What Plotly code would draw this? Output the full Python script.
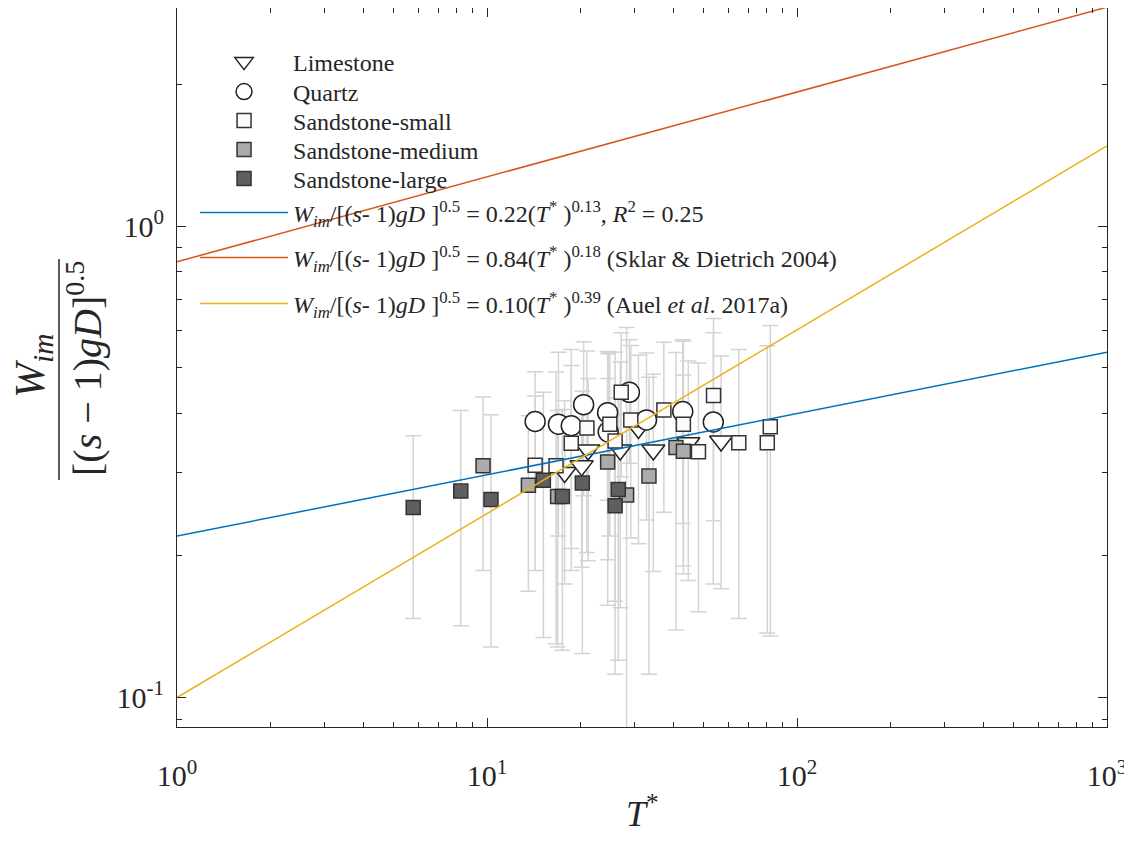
import plotly.graph_objects as go

# ---------------- data ----------------
lime_T = [17.8, 20.2, 21.2, 26.9, 30.8, 34.4, 44.6, 56.9]
lime_W = [0.300, 0.310, 0.335, 0.335, 0.372, 0.335, 0.347, 0.350]
lime_E = [0.126, 0.121, 0.140, 0.180, 0.160, 0.150, 0.170, 0.180]

quartz_T = [14.3, 17.0, 18.7, 20.5, 24.5, 24.6, 28.8, 32.7, 42.8, 53.7]
quartz_W = [0.385, 0.380, 0.377, 0.418, 0.402, 0.366, 0.444, 0.388, 0.404, 0.384]
quartz_E = [0.106, 0.160, 0.170, 0.150, 0.140, 0.170, 0.130, 0.150, 0.170, 0.210]

ss_small_T = [14.3, 16.7, 18.7, 21.0, 24.9, 25.9, 27.1, 29.1, 37.2, 43.0, 48.1, 53.8, 64.9, 80.2, 82.0]
ss_small_W = [0.311, 0.310, 0.346, 0.373, 0.380, 0.350, 0.444, 0.388, 0.407, 0.380, 0.332, 0.437, 0.347, 0.347, 0.375]
ss_small_E = [0.125, 0.180, 0.160, 0.170, 0.160, 0.190, 0.150, 0.170, 0.160, 0.190, 0.180, 0.200, 0.200, 0.210, 0.240]

ss_med_T = [9.71, 13.6, 16.9, 24.5, 28.2, 33.3, 40.7, 43.0]
ss_med_W = [0.310, 0.282, 0.267, 0.316, 0.269, 0.295, 0.339, 0.333]
ss_med_E = [0.124, 0.114, 0.139, 0.159, 0.340, 0.183, 0.200, 0.150]

ss_large_T = [5.78, 8.23, 10.3, 15.2, 17.5, 20.3, 26.5, 25.9]
ss_large_W = [0.253, 0.274, 0.263, 0.289, 0.267, 0.285, 0.276, 0.255]
ss_large_E = [0.106, 0.132, 0.135, 0.155, 0.141, 0.161, 0.156, 0.143]

# fitted / literature relations  W = a * T^b
fit_names = [
    "<i>W</i><sub><i>im</i></sub>/[(<i>s</i>- 1)<i>gD</i> ]<sup>0.5</sup> = 0.22(<i>T</i><sup>*</sup> )<sup>0.13</sup>, <i>R</i><sup>2</sup> = 0.25",
    "<i>W</i><sub><i>im</i></sub>/[(<i>s</i>- 1)<i>gD</i> ]<sup>0.5</sup> = 0.84(<i>T</i><sup>*</sup> )<sup>0.18</sup> (Sklar &amp; Dietrich 2004)",
    "<i>W</i><sub><i>im</i></sub>/[(<i>s</i>- 1)<i>gD</i> ]<sup>0.5</sup> = 0.10(<i>T</i><sup>*</sup> )<sup>0.39</sup> (Auel <i>et al</i>. 2017a)",
]
fit_a = [0.22, 0.84, 0.10]
fit_b = [0.13, 0.18, 0.39]
fit_colors = ["#0072BD", "#D95319", "#EDB120"]
fit_T_range = [1, 1000]

x_tickvals = [1, 10, 100, 1000]
x_ticktext = ["10<sup>0</sup>", "10<sup>1</sup>", "10<sup>2</sup>", "10<sup>3</sup>"]
x_minor = [m * d for d in (1, 10, 100) for m in range(2, 10)]
y_tickvals = [0.1, 1]
y_ticktext = ["10<sup>-1</sup>", "10<sup>0</sup>"]
y_minor = [0.09] + [m / 10 for m in range(2, 10)] + [2]

FONT = "Liberation Serif, Times New Roman, serif"
INK = "#262626"

series = [
    ("Limestone", lime_T, lime_W, lime_E, "triangle-down", 20, "white", "#222222"),
    ("Quartz", quartz_T, quartz_W, quartz_E, "circle", 20, "white", "#222222"),
    ("Sandstone-small", ss_small_T, ss_small_W, ss_small_E, "square", 14, "#fcfcfc", "#333333"),
    ("Sandstone-medium", ss_med_T, ss_med_W, ss_med_E, "square", 14, "#ababab", "#333333"),
    ("Sandstone-large", ss_large_T, ss_large_W, ss_large_E, "square", 14, "#5f5f5f", "#333333"),
]

# vertical centres (screen px) of the legend rows
legend_rows = [62, 92, 121, 150, 179, 213, 258, 304]
PLOT_TOP, PLOT_H = 8, 719

fig = go.Figure()

# error bars first (behind all markers)
for name, T, W, E, sym, size, fill, edge in series:
    fig.add_trace(go.Scatter(
        x=T, y=W, mode="markers",
        marker=dict(size=1, color="rgba(0,0,0,0)"),
        error_y=dict(type="data", array=E, symmetric=True, color="#d4d4d4", thickness=1.5, width=8),
        showlegend=False, hoverinfo="skip",
    ))

legend_layouts = {}
k = 0
for name, T, W, E, sym, size, fill, edge in series:
    lname = "legend" if k == 0 else f"legend{k + 1}"
    fig.add_trace(go.Scatter(
        x=T, y=W, mode="markers", name=name,
        marker=dict(symbol=sym, size=size, color=fill, line=dict(color=edge, width=1.5)),
        legend=lname,
    ))
    legend_layouts[lname] = legend_rows[k]
    k += 1

for nm, a, b, c in zip(fit_names, fit_a, fit_b, fit_colors):
    lname = f"legend{k + 1}"
    fig.add_trace(go.Scatter(
        x=fit_T_range, y=[a * t ** b for t in fit_T_range], mode="lines", name=nm,
        line=dict(color=c, width=1.5), legend=lname,
    ))
    legend_layouts[lname] = legend_rows[k]
    k += 1

axis_common = dict(
    type="log", showline=True, linecolor=INK, linewidth=1.2, mirror="allticks",
    ticks="inside", ticklen=9, tickcolor=INK, tickwidth=1,
    showgrid=False, zeroline=False, automargin=False,
    tickfont=dict(family=FONT, size=30, color=INK),
)

layout_legends = {}
for lname, yc in legend_layouts.items():
    layout_legends[lname] = dict(
        x=0.0194, y=1 - (yc - PLOT_TOP) / PLOT_H, xanchor="left", yanchor="middle",
        bgcolor="rgba(0,0,0,0)", font=dict(family=FONT, size=24, color=INK), itemwidth=88,
    )

# (page body has an 8px margin, so the figure margins are offset by 8px)
fig.update_layout(
    width=1132, height=842,
    margin=dict(l=169, r=33, t=0, b=123),
    paper_bgcolor="white", plot_bgcolor="white",
    font=dict(family=FONT, color=INK),
    xaxis=dict(axis_common, range=[0, 3], tickmode="array", tickvals=x_tickvals, ticktext=x_ticktext,
               ticklabelstandoff=22,
               minor=dict(tickmode="array", tickvals=x_minor, ticks="inside", ticklen=5,
                          tickcolor=INK, showgrid=False)),
    yaxis=dict(axis_common, range=[-1.0626, 0.4625], tickmode="array", tickvals=y_tickvals, ticktext=y_ticktext,
               ticklabelstandoff=6,
               minor=dict(tickmode="array", tickvals=y_minor, ticks="inside", ticklen=5,
                          tickcolor=INK, showgrid=False)),
    showlegend=True,
    **layout_legends,
)

# x-axis title
fig.add_annotation(text="<i>T</i><sup>*</sup>", xref="paper", yref="paper", x=0.5, y=-0.117,
                   showarrow=False, font=dict(family=FONT, size=36, color=INK),
                   xanchor="center", yanchor="middle")

# y-axis title as a fraction
fig.add_annotation(text="<i>W</i><sub><i>im</i></sub>", xref="paper", yref="paper",
                   x=(33 - 177) / 930, y=1 - (366 - 8) / 719, textangle=-90, showarrow=False,
                   font=dict(family=FONT, size=42, color=INK), xanchor="center", yanchor="middle")
fig.add_annotation(text="[(<i>s</i> − 1)<i>gD</i>]<sup>0.5</sup>", xref="paper", yref="paper",
                   x=(84 - 177) / 930, y=1 - (369 - 8) / 719, textangle=-90, showarrow=False,
                   font=dict(family=FONT, size=40, color=INK), xanchor="center", yanchor="middle")
fig.add_shape(type="line", xref="paper", yref="paper",
              x0=(59 - 177) / 930, x1=(59 - 177) / 930,
              y0=1 - (480 - 8) / 719, y1=1 - (259 - 8) / 719,
              line=dict(color=INK, width=1.5))

fig.write_html("out.html")
